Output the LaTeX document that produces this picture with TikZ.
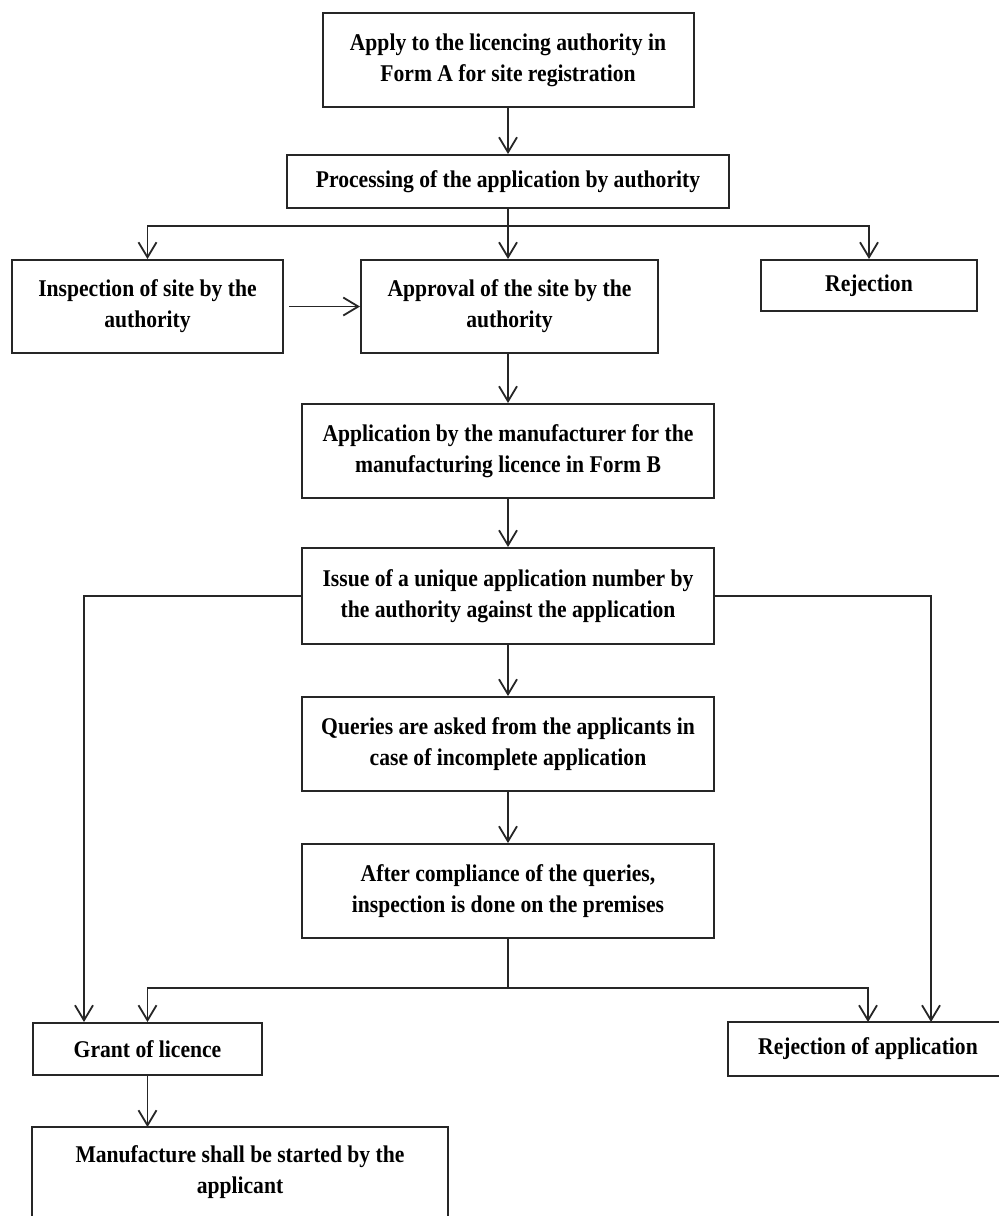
\documentclass[tikz,border=0pt]{standalone}
\usepackage{fontspec}
\setmainfont{Liberation Serif}[FakeStretch=0.9]
\usetikzlibrary{arrows.meta}
\begin{document}
\begin{tikzpicture}[x=1pt,y=-1pt,
  box/.style={draw=black!85, line width=2pt, align=center, font=\fontsize{24}{31}\selectfont\bfseries, inner sep=0pt, anchor=center},
  arr/.style={line width=1.8pt, draw=black!85, -{Straight Barb[length=15pt,width=18pt,line width=1.8pt]}},
  ln/.style={line width=1.8pt, draw=black!85}]
\useasboundingbox (0,0) rectangle (999,1216);
\fill[white] (0,0) rectangle (999,1216);
\node[box, minimum width=371pt, minimum height=94pt] (a) at (508,60) {Apply to the licencing authority in\\Form A for site registration};
\node[box, minimum width=442pt, minimum height=53pt] (b) at (508,181.5) {Processing of the application by authority};
\node[box, minimum width=271pt, minimum height=93pt] (c) at (147.5,306.5) {Inspection of site by the\\authority};
\node[box, minimum width=297pt, minimum height=93pt] (d) at (509.5,306.5) {Approval of the site by the\\authority};
\node[box, minimum width=216pt, minimum height=51pt] (e) at (869,285.5) {Rejection};
\node[box, minimum width=412pt, minimum height=94pt] (f) at (508,451) {Application by the manufacturer for the\\manufacturing licence in Form B};
\node[box, minimum width=412pt, minimum height=96pt] (g) at (508,596) {Issue of a unique application number by\\the authority against the application};
\node[box, minimum width=412pt, minimum height=94pt] (h) at (508,744) {Queries are asked from the applicants in\\case of incomplete application};
\node[box, minimum width=412pt, minimum height=94pt] (i) at (508,891) {After compliance of the queries,\\inspection is done on the premises};
\node[box, minimum width=229pt, minimum height=52pt] (j) at (147.5,1049) {Grant of licence};
\node[box, draw=none, minimum width=278pt, minimum height=52pt] (k) at (868,1049) {Rejection of application};
\draw[box] ([xshift=20pt]k.north east) -- (k.north west) -- (k.south west) -- ([xshift=20pt]k.south east);
\node[box, draw=none, minimum width=414pt, minimum height=88pt] (l) at (240,1172) {Manufacture shall be started by the\\applicant};
\draw[box] ([yshift=-12pt]l.south west) -- (l.north west) -- (l.north east) -- ([yshift=-12pt]l.south east);
% connectors
\draw[arr] (a.south) -- (b.north);
\coordinate (b1) at (508,226);
\draw[ln] (b.south) -- (b1);
\draw[arr] (b1) -| (c.north);
\draw[arr] (b1) -- (b1 |- d.north);
\draw[arr] (b1) -| (e.north);
\draw[arr, shorten <=5pt] (c.east) -- (d.west);
\draw[arr] (d.south -| f.north) -- (f.north);
\draw[arr] (f.south) -- (g.north);
\draw[arr] (g.west) -| ([xshift=-63.5pt]j.north);
\draw[arr] (g.east) -| ([xshift=63pt]k.north);
\draw[arr] (g.south) -- (h.north);
\draw[arr] (h.south) -- (i.north);
\coordinate (i1) at (508,988);
\draw[ln] (i.south) -- (i1);
\draw[arr] (i1) -| (j.north);
\draw[arr] (i1) -| (k.north);
\draw[arr] (j.south) -- (j.south |- l.north);
\end{tikzpicture}
\end{document}
